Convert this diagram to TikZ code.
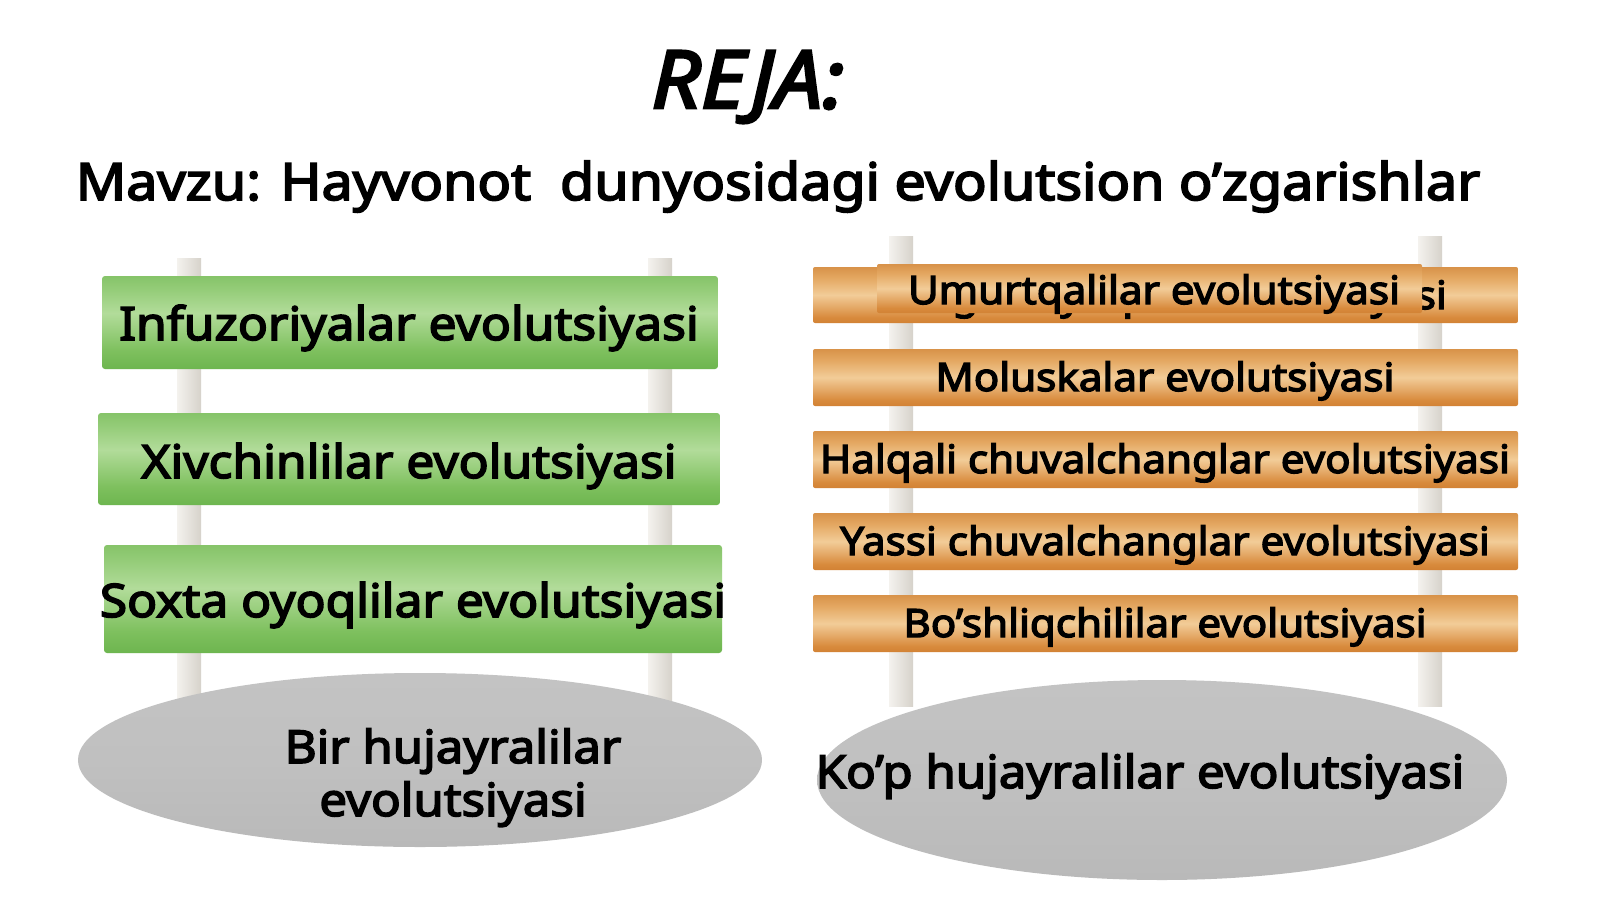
\documentclass[tikz,border=0pt]{standalone}
\usepackage{fontspec}
\setmainfont{Noto Sans}[BoldFont={Noto Sans},BoldFeatures={FakeBold=3.5,FakeStretch=1.08},BoldItalicFont={Noto Sans Italic},BoldItalicFeatures={FakeBold=3.5,FakeStretch=1.08}]
\usetikzlibrary{shapes.geometric,fadings}
\definecolor{postL}{HTML}{F4F2EE}
\definecolor{postR}{HTML}{D6D2CA}
\pgfdeclareverticalshading{greenbar}{100bp}{
  color(0bp)=({rgb,255:red,63;green,143;blue,46});
  color(12bp)=({rgb,255:red,88;green,168;blue,60});
  color(35bp)=({rgb,255:red,126;green,192;blue,94});
  color(55bp)=({rgb,255:red,178;green,220;blue,154});
  color(68bp)=({rgb,255:red,148;green,204;blue,120});
  color(88bp)=({rgb,255:red,108;green,180;blue,78});
  color(100bp)=({rgb,255:red,79;green,150;blue,56})}
\pgfdeclareverticalshading{orangebar}{100bp}{
  color(0bp)=({rgb,255:red,154;green,80;blue,16});
  color(10bp)=({rgb,255:red,192;green,106;blue,30});
  color(30bp)=({rgb,255:red,216;green,138;blue,60});
  color(50bp)=({rgb,255:red,242;green,204;blue,152});
  color(65bp)=({rgb,255:red,228;green,168;blue,98});
  color(85bp)=({rgb,255:red,204;green,124;blue,48});
  color(100bp)=({rgb,255:red,176;green,96;blue,26})}
\pgfdeclareverticalshading{grayell}{100bp}{
  color(0bp)=({rgb,255:red,178;green,178;blue,178});
  color(50bp)=({rgb,255:red,192;green,192;blue,192});
  color(100bp)=({rgb,255:red,198;green,198;blue,198})}
\pgfdeclarehorizontalshading{endmask}{100bp}{
  color(0bp)=(white!38!black);
  color(12bp)=(black);
  color(88bp)=(black);
  color(100bp)=(white!38!black)}
\pgfdeclarefading{endfade}{\pgfuseshading{endmask}}
\begin{document}
\begin{tikzpicture}[x=1pt,y=-1pt,
  post/.style={rectangle, inner sep=0pt, minimum width=24pt, left color=postL, right color=postR},
  gbar/.style={rectangle, rounded corners=3pt, inner sep=0pt, shading=greenbar},
  obar/.style={rectangle, rounded corners=2pt, inner sep=0pt, shading=orangebar},
  glow/.style={white, path fading=endfade, fit fading=true},
  ell/.style={ellipse, inner sep=0pt, shading=grayell},
  gtxt/.style={anchor=base, inner sep=0pt, font=\bfseries\fontsize{46}{52}\selectfont},
  otxt/.style={anchor=base, inner sep=0pt, font=\bfseries\fontsize{39}{45}\selectfont},
  etxt/.style={anchor=base, inner sep=0pt, font=\bfseries\fontsize{45.5}{52}\selectfont}]
\useasboundingbox[fill=white] (0,0) rectangle (1600,899);

% title
\node[anchor=base, inner sep=0pt, font=\bfseries\itshape\fontsize{80}{90}\selectfont] (title) at (748,108) {REJA:};
\node[anchor=base, inner sep=0pt, font=\bfseries\fontsize{51.5}{60}\selectfont] (subtitle) at (778,200) {Mavzu: Hayvonot\ \ dunyosidagi evolutsion o’zgarishlar};

% posts
\node[post, minimum height=448pt] (pl1) at (189,482) {};
\node[post, minimum height=448pt] (pl2) at (660,482) {};
\node[post, minimum height=470pt] (pr1) at (901,471) {};
\node[post, minimum height=470pt] (pr2) at (1430,471) {};

% green bars
\node[gbar, minimum width=616pt, minimum height=93pt] (g1) at (410,322.5) {};
\node[gbar, minimum width=622pt, minimum height=92pt] (g2) at (409,459) {};
\node[gbar, minimum width=618pt, minimum height=108pt] (g3) at (413,599) {};
\foreach \b in {g1,g2,g3} {\fill[glow, rounded corners=3pt] (\b.south west) rectangle (\b.north east);}
\node[gtxt] (tg1) at (409,340) {Infuzoriyalar evolutsiyasi};
\node[gtxt] (tg2) at (409,478) {Xivchinlilar evolutsiyasi};
\node[gtxt] (tg3) at (413,617) {Soxta oyoqlilar evolutsiyasi};

% orange bars
\node[obar, minimum width=705pt, minimum height=56pt] (o1) at (1165.5,295) {};
\node[obar, minimum width=705pt, minimum height=57pt] (o2) at (1165.5,377.5) {};
\node[obar, minimum width=705pt, minimum height=57pt] (o3) at (1165.5,459.5) {};
\node[obar, minimum width=705pt, minimum height=57pt] (o4) at (1165.5,541.5) {};
\node[obar, minimum width=705pt, minimum height=57pt] (o5) at (1165.5,623.5) {};
\foreach \b in {o1,o2,o3,o4,o5} {\fill[glow, rounded corners=2pt] (\b.south west) rectangle (\b.north east);}
\node[otxt] (to1) at (1170,309) {Bo‘g‘imoyoqlilar evolutsiyasi};
\node[obar, minimum width=545pt, minimum height=49pt] (ov) at (1149.5,288.5) {};
\fill[glow, rounded corners=2pt] (ov.south west) rectangle (ov.north east);
\node[otxt] (tov) at (1154,304) {Umurtqalilar evolutsiyasi};
\node[otxt] (to2) at (1165,391) {Moluskalar evolutsiyasi};
\node[otxt] (to3) at (1165,473) {Halqali chuvalchanglar evolutsiyasi};
\node[otxt] (to4) at (1165,555) {Yassi chuvalchanglar evolutsiyasi};
\node[otxt] (to5) at (1165,637) {Bo’shliqchililar evolutsiyasi};

% ellipses
\node[ell, minimum width=684pt, minimum height=174pt] (e1) at (420,760) {};
\node[etxt] (te1a) at (453,763) {Bir hujayralilar};
\node[etxt] (te1b) at (453,816) {evolutsiyasi};
\node[ell, minimum width=690pt, minimum height=200pt] (e2) at (1162,780) {};
\node[etxt] (te2) at (1140,788) {Ko’p hujayralilar evolutsiyasi};
\end{tikzpicture}
\end{document}
